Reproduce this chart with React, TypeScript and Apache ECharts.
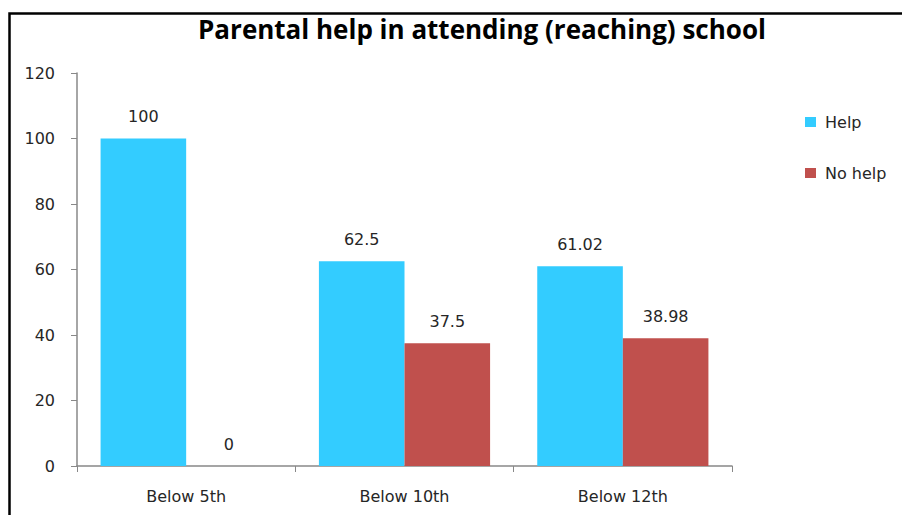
import React, { useEffect, useRef } from "react";
import * as echarts from "echarts";

const categories = ["Below 5th", "Below 10th", "Below 12th"];
const helpValues = [100, 62.5, 61.02];
const noHelpValues = [0, 37.5, 38.98];
const seriesNames = ["Help", "No help"];
const titleText = "Parental help in attending (reaching) school";

const TITLE_FONT = "'Open Sans', 'Noto Sans', sans-serif";
const FONT = "'DejaVu Sans', 'Noto Sans', sans-serif";

export default function App() {
  const ref = useRef<HTMLDivElement>(null);
  useEffect(() => {
    if (!ref.current) return;
    const chart = echarts.init(ref.current, null, { renderer: "svg" });
    const labelStyle = {
      show: true,
      position: "top" as const,
      distance: 14,
      fontSize: 16,
      color: "#262626",
      fontFamily: FONT,
    };
    chart.setOption({
      animation: false,
      backgroundColor: "#ffffff",
      title: {
        text: titleText,
        left: 482,
        textAlign: "center",
        top: 16,
        padding: 0,
        textStyle: {
          fontSize: 26,
          fontWeight: "bold",
          color: "#000",
          fontFamily: TITLE_FONT,
        },
      },
      graphic: [
        {
          type: "rect",
          left: 7,
          top: 11,
          shape: { width: 1000, height: 600 },
          style: { fill: "none", stroke: "#000", lineWidth: 2.5 },
          silent: true,
        },
      ],
      legend: {
        orient: "vertical",
        left: 805,
        top: 114,
        padding: 0,
        itemWidth: 11,
        itemHeight: 10,
        itemGap: 35,
        icon: "rect",
        textStyle: {
          fontSize: 16,
          color: "#262626",
          fontFamily: FONT,
          padding: [0, 0, 0, 4],
        },
        data: seriesNames,
      },
      grid: { left: 77, right: 170, top: 73, bottom: 49 },
      xAxis: {
        type: "category",
        data: categories,
        axisLine: { lineStyle: { color: "#888", width: 1.5 } },
        axisTick: { show: true, length: 6, lineStyle: { color: "#888" } },
        axisLabel: {
          fontSize: 16,
          color: "#262626",
          margin: 22,
          fontFamily: FONT,
        },
      },
      yAxis: {
        type: "value",
        min: 0,
        max: 120,
        interval: 20,
        axisLine: { show: true, lineStyle: { color: "#888", width: 1.5 } },
        axisTick: { show: true, length: 6, lineStyle: { color: "#888" } },
        splitLine: { show: false },
        axisLabel: {
          fontSize: 16,
          color: "#262626",
          margin: 22,
          fontFamily: FONT,
        },
      },
      series: [
        {
          name: seriesNames[0],
          type: "bar",
          data: helpValues,
          barGap: "0%",
          barCategoryGap: "21.6%",
          itemStyle: { color: "#33CCFF" },
          label: labelStyle,
        },
        {
          name: seriesNames[1],
          type: "bar",
          data: noHelpValues,
          barGap: "0%",
          barCategoryGap: "21.6%",
          itemStyle: { color: "#C0504D" },
          label: labelStyle,
        },
      ],
    });
    return () => chart.dispose();
  }, []);
  return <div ref={ref} style={{ width: 902, height: 515, position: "absolute", left: 0, top: 0 }} />;
}
